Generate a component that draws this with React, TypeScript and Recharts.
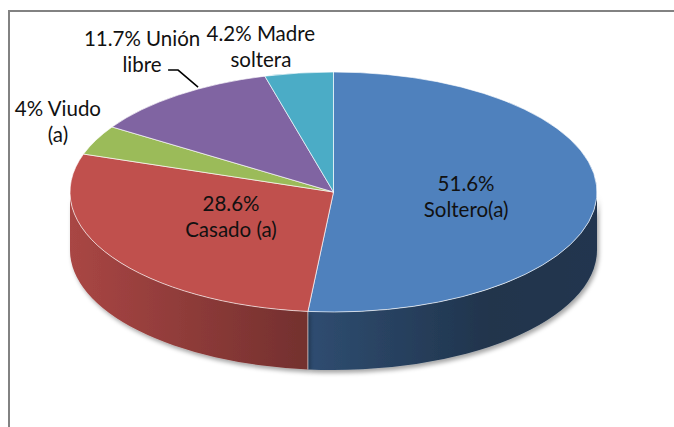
import React from "react";
import { PieChart, Pie, Cell } from "recharts";

const CATEGORIES = ["Soltero(a)", "Casado (a)", "Viudo (a)", "Unión libre", "Madre soltera"];
const SHARES = [51.6, 28.6, 4, 11.7, 4.2];
const COLORS = ["#4F81BD", "#C0504D", "#9BBB59", "#8064A2", "#4BACC6"];
// labels sit inside the two big slices, outside the small ones
const INSIDE = [true, true, false, false, false];

// label nudges (first baseline relative to the anchor point)
const LABEL_NUDGE: [number, number][] = [
  [1, -4],
  [8, -14],
  [-38, -24],
  [-36, -49],
  [-38, -32],
];

const data = CATEGORIES.map((name, i) => ({ name, value: SHARES[i] }));

const TILT = 0.4554; // ellipse ry / rx
const DEPTH = 58;
const RAD = Math.PI / 180;
const FONT = "Lato, 'Liberation Sans', Arial, sans-serif";

function shade(hex: string, f: number) {
  const n = parseInt(hex.slice(1), 16);
  const r = Math.round(((n >> 16) & 255) * f);
  const g = Math.round(((n >> 8) & 255) * f);
  const b = Math.round((n & 255) * f);
  return `rgb(${r},${g},${b})`;
}

function pt(cx: number, cy: number, rx: number, a: number, dy = 0) {
  return [cx + rx * Math.cos(a * RAD), cy - rx * TILT * Math.sin(a * RAD) + dy];
}

function Slice3D(props: any) {
  const { cx, cy, outerRadius, startAngle, endAngle, fill } = props;
  const rx = outerRadius;
  const ry = rx * TILT;
  const [sx, sy] = pt(cx, cy, rx, startAngle);
  const [ex, ey] = pt(cx, cy, rx, endAngle);
  const large = Math.abs(startAngle - endAngle) > 180 ? 1 : 0;
  const top = `M${cx},${cy} L${sx},${sy} A${rx},${ry} 0 ${large} 1 ${ex},${ey} Z`;

  // front wall: part of the slice between -180 and 0 degrees
  const hi = Math.min(startAngle, 0);
  const lo = Math.max(endAngle, -180);
  const gid = `side-${String(fill).slice(1)}`;
  let side = null;
  if (lo < hi) {
    const [ax, ay] = pt(cx, cy, rx, hi);
    const [bx, by] = pt(cx, cy, rx, lo);
    const d = `M${ax},${ay} A${rx},${ry} 0 0 1 ${bx},${by} L${bx},${by + DEPTH} A${rx},${ry} 0 0 0 ${ax},${ay + DEPTH} Z`;
    side = (
      <g>
        <defs>
          <linearGradient id={gid} gradientUnits="userSpaceOnUse" x1={cx - rx} y1={0} x2={cx + rx} y2={0}>
            <stop offset="0" stopColor={shade(fill, 0.88)} />
            <stop offset="0.45" stopColor={shade(fill, 0.6)} />
            <stop offset="0.8" stopColor={shade(fill, 0.4)} />
            <stop offset="1" stopColor={shade(fill, 0.42)} />
          </linearGradient>
        </defs>
        <path d={d} fill={`url(#${gid})`} filter="url(#pieShadow)" />
        {hi < 0 && hi > -180 && (
          <line x1={ax} y1={ay} x2={ax} y2={ay + DEPTH} stroke="#ffffff" strokeOpacity={0.6} strokeWidth={1} />
        )}
      </g>
    );
  }

  return (
    <g>
      {side}
      <path d={top} fill={fill} stroke="#ffffff" strokeOpacity={0.65} strokeWidth={1} />
    </g>
  );
}

function renderLabel(props: any) {
  const { cx, cy, outerRadius, midAngle, index, value, name } = props;
  const inside = INSIDE[index];
  const [ax, ay] = pt(cx, cy, inside ? outerRadius * 0.5 : outerRadius, midAngle);
  const [nx, ny] = LABEL_NUDGE[index];
  const x = ax + nx;
  const y = ay + ny;
  const words = String(name).split(" ");
  const lines = inside
    ? [`${value}%`, name]
    : [`${value}% ${words[0]}`, words.slice(1).join(" ")];
  return (
    <g>
      {index === 3 && (
        <polyline
          points={`${ax - 10},${ay - 25} ${ax},${ay - 25} ${ax + 20},${ay - 8}`}
          fill="none"
          stroke="#000"
          strokeWidth={1.5}
        />
      )}
      <text x={x} y={y} textAnchor="middle" fontFamily={FONT} fontSize={20.5} fill="#111">
        {lines.map((l, i) => (
          <tspan key={i} x={x} dy={i === 0 ? 0 : 26}>
            {l}
          </tspan>
        ))}
      </text>
    </g>
  );
}

export default function App() {
  return (
    <div
      style={{
        position: "absolute",
        left: 0,
        top: 0,
        width: 674,
        height: 427,
        overflow: "hidden",
        background: "#fff",
      }}
    >
      <div
        style={{
          position: "absolute",
          left: 8,
          top: 10,
          width: 720,
          height: 500,
          border: "2px solid #828282",
        }}
      />
      <div style={{ position: "absolute", left: 0, top: 0 }}>
        <PieChart width={674} height={427}>
          <defs>
            <filter id="pieShadow" x="-10%" y="-10%" width="130%" height="140%">
              <feDropShadow dx={2} dy={3} stdDeviation={2} floodColor="#000" floodOpacity={0.35} />
            </filter>
          </defs>
          <Pie
            data={data}
            dataKey="value"
            nameKey="name"
            cx={328.5}
            cy={187}
            outerRadius={263.5}
            startAngle={90}
            endAngle={-270}
            isAnimationActive={false}
            shape={Slice3D}
            inactiveShape={Slice3D}
            activeShape={Slice3D}
            label={renderLabel}
            labelLine={false}
          >
            {data.map((d, i) => (
              <Cell key={d.name} fill={COLORS[i]} />
            ))}
          </Pie>
        </PieChart>
      </div>
    </div>
  );
}
